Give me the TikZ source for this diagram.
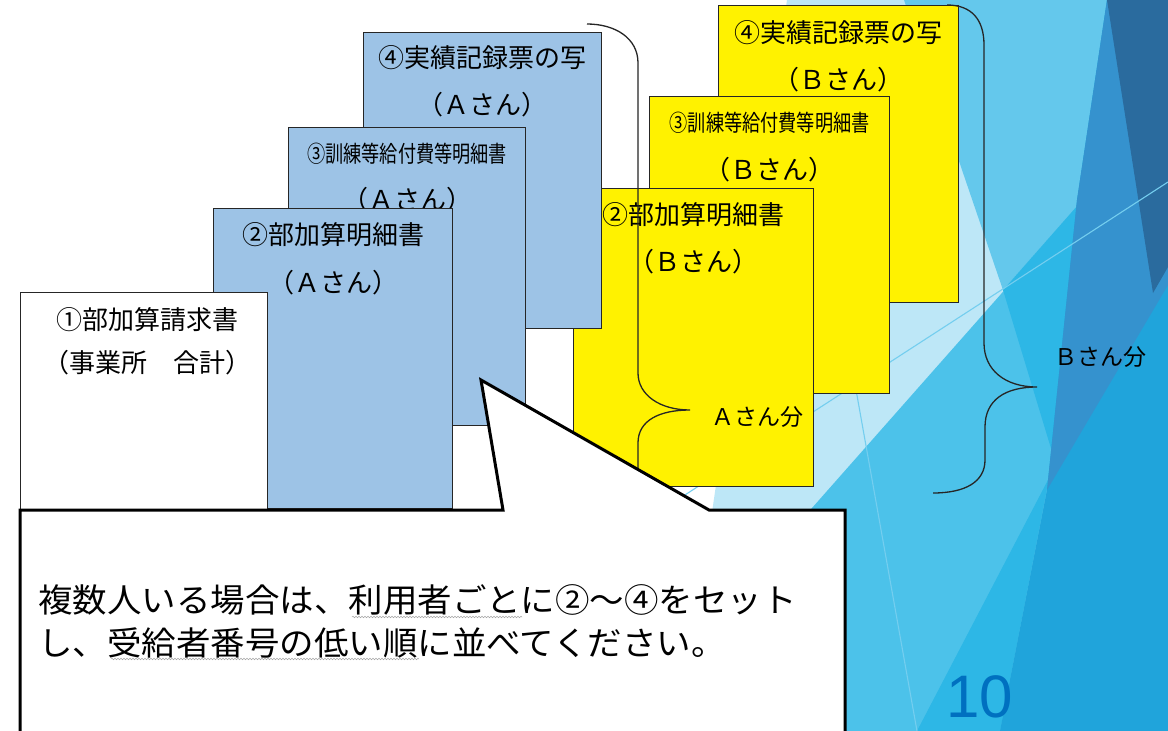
\documentclass[tikz,border=0pt]{standalone}
\usepackage{fontspec}
\newfontfamily\cjk{Noto Sans CJK JP}
\newfontfamily\numfont{Liberation Sans}
\usetikzlibrary{calc,decorations.pathmorphing}
\definecolor{bgLight}{HTML}{BDE7F7}
\definecolor{bgMedLight}{HTML}{64C8EC}
\definecolor{bgMed}{HTML}{4CC2EA}
\definecolor{bgBright}{HTML}{2DB7E6}
\definecolor{bgDeep}{HTML}{20A4DB}
\definecolor{bgMid}{HTML}{3592CE}
\definecolor{bgDark}{HTML}{2A6B9E}
\definecolor{thinLine}{HTML}{74CEEF}
\definecolor{boxBlue}{HTML}{9DC3E6}
\definecolor{pageNum}{HTML}{0070C0}
\tikzset{
  doc/.style={draw=black!85, line width=1.2pt, inner sep=0pt, anchor=north west},
  bluedoc/.style={doc, fill=boxBlue},
  yellowdoc/.style={doc, fill=yellow},
  whitedoc/.style={doc, fill=white},
  doctext/.style={font=\cjk\fontsize{26}{26}\selectfont, inner sep=0pt},
  narrowtext/.style={font=\cjk\fontsize{23}{23}\selectfont, inner sep=0pt, xscale=0.79},
  bracestyle/.style={draw=black!85, line width=1.3pt},
  bracelabel/.style={font=\cjk\fontsize{23}{23}\selectfont, inner sep=0pt},
  callouttext/.style={font=\cjk\fontsize{33}{33}\selectfont, inner sep=0pt, anchor=west, xscale=1.045},
  squiggle/.style={draw=gray!70, line width=0.5pt, decorate, decoration={snake, amplitude=0.8pt, segment length=3pt}}
}
\begin{document}
\begin{tikzpicture}[x=1pt,y=-1pt]
\useasboundingbox (0,0) rectangle (1168,731);
\clip (0,0) rectangle (1168,731);
% background facets
\fill[white] (0,0) rectangle (1168,731);
\fill[bgLight] (787,0) -- (1168,0) -- (1168,731) -- (680,731) -- cycle;
\fill[bgMedLight] (904,0) -- (1168,0) -- (1168,105) -- (1003,290) -- cycle;
\fill[bgMed] (615,731) -- (1168,105) -- (1168,731) -- cycle;
\fill[bgBright] (1003,290) -- (1053,455) -- (1078,205) -- cycle;
\fill[bgBright] (1049,478) -- (917,731) -- (1000,731) -- cycle;
\fill[bgDeep] (1107,0) -- (1168,0) -- (1168,731) -- (1000,731) -- (1047,490) -- (1077,200) -- cycle;
\fill[bgMid] (1107,0) -- (1168,0) -- (1168,285) -- (1047,490) -- (1077,200) -- cycle;
\fill[bgDark] (1107,0) -- (1168,0) -- (1168,267) -- (1153,293) -- cycle;
\draw[thinLine, line width=1.1pt] (600,550) -- (1168,182);
\draw[thinLine, line width=1.1pt] (831,250) -- (917,731);

% B documents (yellow)
\node[yellowdoc, minimum width=240pt, minimum height=297pt] (bB4) at (718,5) {};
\node[doctext] (tB4a) at ($(bB4.north)+(0,28)$) {④実績記録票の写};
\node[doctext] (tB4b) at ($(bB4.north)+(0,75)$) {（Ｂさん）};
\node[yellowdoc, minimum width=240pt, minimum height=297pt] (bB3) at (649,96) {};
\node[narrowtext] (tB3a) at ($(bB3.north)+(0,27)$) {③訓練等給付費等明細書};
\node[doctext] (tB3b) at ($(bB3.north)+(0,74)$) {（Ｂさん）};
\node[yellowdoc, minimum width=240pt, minimum height=298pt] (bB2) at (573,188) {};
\node[doctext] (tB2a) at ($(bB2.north)+(0,27)$) {②部加算明細書};
\node[doctext] (tB2b) at ($(bB2.north)+(0,74)$) {（Ｂさん）};

% A documents (blue)
\node[bluedoc, minimum width=238pt, minimum height=296pt] (bA4) at (363,32) {};
\node[doctext] (tA4a) at ($(bA4.north)+(0,26)$) {④実績記録票の写};
\node[doctext] (tA4b) at ($(bA4.north)+(0,73)$) {（Ａさん）};
\node[bluedoc, minimum width=237pt, minimum height=298pt] (bA3) at (288,127) {};
\node[narrowtext] (tA3a) at ($(bA3.north)+(0,27)$) {③訓練等給付費等明細書};
\node[doctext] (tA3b) at ($(bA3.north)+(0,73)$) {（Ａさん）};
\node[bluedoc, minimum width=239pt, minimum height=300pt] (bA2) at (213,208) {};
\node[doctext] (tA2a) at ($(bA2.north)+(0,27)$) {②部加算明細書};
\node[doctext] (tA2b) at ($(bA2.north)+(0,75)$) {（Ａさん）};

% summary sheet
\node[whitedoc, minimum width=247pt, minimum height=222pt] (b1) at (20,292) {};
\node[doctext] (t1a) at ($(b1.north)+(3,28)$) {①部加算請求書};
\node[doctext] (t1b) at ($(b1.north)+(3,71)$) {（事業所　合計）};

% braces
\draw[bracestyle] (587,24) .. controls (615,24) and (638,38) .. (638,63)
  -- (638,373) .. controls (638,395) and (660,410) .. (690,410)
  .. controls (660,410) and (638,420) .. (638,443)
  -- (638,490) .. controls (638,510) and (615,525) .. (587,525);
\node[bracelabel] (labA) at (757,417) {Ａさん分};
\draw[bracestyle] (947,5) .. controls (972,5) and (984,20) .. (984,45)
  -- (984,343) .. controls (984,370) and (1005,387) .. (1037,387)
  .. controls (1005,387) and (985,400) .. (985,427)
  -- (985,460) .. controls (985,482) and (965,493) .. (933,493);
\node[bracelabel] (labB) at (1100,357) {Ｂさん分};

% callout
\draw[line width=3pt, fill=white, line join=miter] (20,510) -- (503,510) -- (481,380) -- (709,510) -- (845,510) -- (845,745) -- (20,745) -- cycle;
\node[callouttext] (c1) at (38,600) {複数人いる場合は、利用者ごとに②～④をセット};
\node[callouttext] (c2) at (38,643) {し、受給者番号の低い順に並べてください。};
\draw[squiggle] (352,617) -- (522,617);
\draw[squiggle] (111,659) -- (419,659);

% page number
\node[font=\numfont\fontsize{60}{60}\selectfont, text=pageNum, inner sep=0pt] (pg) at (980,697) {10};
\end{tikzpicture}
\end{document}
